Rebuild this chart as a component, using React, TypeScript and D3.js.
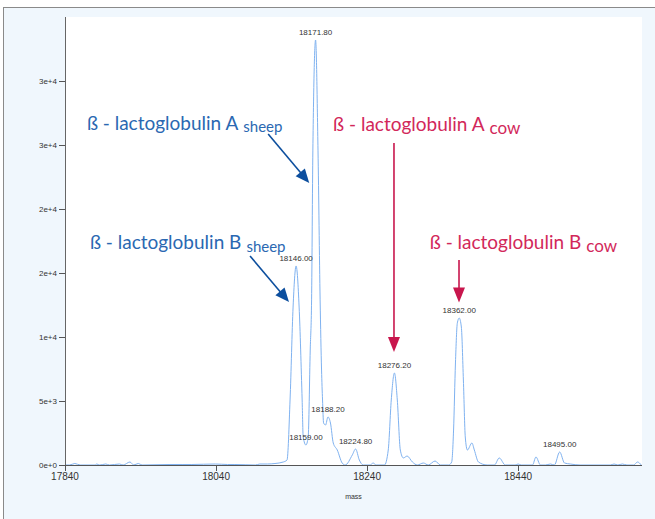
import React from "react";
import * as d3 from "d3";

// ---- data (mass, intensity) ----
const masses: number[] = [
  17840, 17846, 17853, 17860, 17880, 17882, 17886, 17894, 17899, 17912, 17917,
  17926, 17931, 17937, 17942, 17979, 17995, 18008, 18039, 18055, 18065, 18092,
  18098, 18108, 18118, 18129, 18134, 18138, 18142, 18146, 18150, 18154, 18155.4,
  18159, 18162, 18164.7, 18166.5, 18168.2, 18171.8, 18175, 18177.8, 18179.7,
  18181, 18182.4, 18185, 18188.2, 18191.5, 18195.2, 18200.5, 18207, 18211,
  18220.4, 18224.8, 18229.7, 18235, 18244, 18248, 18252, 18263, 18268, 18272,
  18276.2, 18280, 18284, 18288, 18293, 18300, 18306.5, 18314.5, 18321, 18330,
  18337, 18348, 18352, 18354.5, 18357, 18359.5, 18362, 18364.8, 18367.5, 18370,
  18372.8, 18378.8, 18382, 18387.4, 18399, 18408.6, 18415, 18423, 18436, 18440,
  18444, 18459, 18463.6, 18469.6, 18476, 18482.8, 18488, 18495, 18501.4, 18509,
  18522, 18562, 18567, 18572, 18578, 18584, 18593, 18598, 18603,
];
const intensities: number[] = [
  0, 0, 117, 0, 0, 78, 0, 78, 0, 78, 0,
  234, 0, 117, 0, 40, 40, 40, 78, 40, 40, 0,
  78, 78, 117, 234, 390, 5080, 12340, 15550, 12340, 5080, 2190,
  1560, 2190, 8980, 12900, 24600, 33200, 24600, 12900, 7420,
  5080, 3280, 3125, 3750, 3280, 1720, 1170, 156, 0,
  780, 1250, 390, 0, 0, 156, 0, 0, 1170, 5080,
  7190, 5080, 1170, 550, 700, 234, 0, 156, 0, 312,
  0, 0, 234, 2730, 7970, 11100, 11480, 10780, 6640, 2190,
  1170, 1720, 1170, 234, 0, 0, 550, 0, 0, 78,
  0, 0, 625, 0, 0, 78, 0, 1015, 156, 78,
  0, 0, 78, 0, 78, 0, 0, 234, 0,
];

const labelledPeaks: number[] = [18146, 18159, 18171.8, 18188.2, 18224.8, 18276.2, 18362, 18495];

const xTicks: number[] = [17840, 18040, 18240, 18440];
const yTicks: number[] = [0, 5000, 10000, 15000, 20000, 25000, 30000];

const xDomain: [number, number] = [17840, 18604];
const yDomain: [number, number] = [0, 35000];

// annotations in data coordinates
const annoText: string[] = ["ß - lactoglobulin A", "ß - lactoglobulin B", "ß - lactoglobulin A", "ß - lactoglobulin B"];
const annoSub: string[] = ["sheep", "sheep", "cow", "cow"];
const annoPos: [number, number][] = [[17869, 26210], [17873, 16875], [18195, 26090], [18323, 16875]];
const arrowFrom: [number, number][] = [[18109, 25860], [18085, 16330], [18275.6, 25156], [18361.7, 16016]];
const arrowTo: [number, number][] = [[18163.4, 22030], [18136.6, 12730], [18275.6, 8828], [18361.7, 12700]];
const annoKind: string[] = ["sheep", "sheep", "cow", "cow"];

const W = 655, H = 519;
const plot = { left: 65, right: 642, top: 17, bottom: 465 };

export default function App() {
  const x = d3.scaleLinear().domain(xDomain).range([plot.left, plot.right]);
  const y = d3.scaleLinear().domain(yDomain).range([plot.bottom, plot.top]);
  const pts: [number, number][] = masses.map((m, i) => [m, intensities[i]]);
  const line = d3
    .line<[number, number]>()
    .x((d) => x(d[0]))
    .y((d) => y(d[1]))
    .curve(d3.curveMonotoneX);
  const fmt = d3.format(".0e");
  const tickFont = "'Liberation Sans', Arial, sans-serif";
  const annoFont = "Lato, 'Open Sans', sans-serif";
  const colors: Record<string, { text: string; arrow: string }> = {
    sheep: { text: "#2a68b2", arrow: "#0d4f9e" },
    cow: { text: "#d2285a", arrow: "#c8164d" },
  };

  const arrowHead = (x1: number, y1: number, x2: number, y2: number, len: number, half: number) => {
    const a = Math.atan2(y2 - y1, x2 - x1);
    const bx = x2 - len * Math.cos(a), by = y2 - len * Math.sin(a);
    const px = -Math.sin(a) * half, py = Math.cos(a) * half;
    return `M${x2},${y2}L${bx + px},${by + py}L${bx - px},${by - py}Z`;
  };

  return (
    <svg width={W} height={H} style={{ position: "absolute", left: 0, top: 0, display: "block" }}>
      <rect x={0} y={0} width={W} height={H} fill="#ffffff" />
      <rect x={3.5} y={7.5} width={W} height={H} fill="#f0f7fd" stroke="#8a8a8a" strokeWidth={1} />
      <rect x={plot.left} y={plot.top} width={plot.right - plot.left} height={plot.bottom - plot.top} fill="#ffffff" />

      {/* spectrum */}
      <path d={line(pts) || ""} fill="none" stroke="#7fb2f0" strokeWidth={1} />

      {/* axes */}
      <line x1={plot.left + 0.5} x2={plot.left + 0.5} y1={plot.top} y2={plot.bottom} stroke="#666" strokeWidth={1} />
      <line x1={plot.left} x2={plot.right} y1={plot.bottom + 0.5} y2={plot.bottom + 0.5} stroke="#555" strokeWidth={1} />
      {yTicks.map((t) => (
        <g key={"y" + t}>
          <line x1={plot.left - 6} x2={plot.left} y1={Math.round(y(t)) + 0.5} y2={Math.round(y(t)) + 0.5} stroke="#555" />
          <text x={plot.left - 8} y={y(t) + 3} textAnchor="end" fontSize={8} fontFamily={tickFont} fill="#333">
            {fmt(t)}
          </text>
        </g>
      ))}
      {xTicks.map((t) => (
        <g key={"x" + t}>
          <line x1={Math.round(x(t)) + 0.5} x2={Math.round(x(t)) + 0.5} y1={plot.bottom} y2={plot.bottom + 6} stroke="#555" />
          <text x={x(t)} y={plot.bottom + 15} textAnchor="middle" fontSize={10} fontFamily={tickFont} fill="#333">
            {t}
          </text>
        </g>
      ))}
      <text x={(plot.left + plot.right) / 2} y={499} textAnchor="middle" fontSize={7} fontFamily={tickFont} fill="#333">
        mass
      </text>

      {/* peak labels */}
      {labelledPeaks.map((m) => {
        const i = masses.indexOf(m);
        return (
          <text key={"p" + m} x={x(m)} y={y(intensities[i]) - 5} textAnchor="middle" fontSize={8} fontFamily={tickFont} fill="#333">
            {m.toFixed(2)}
          </text>
        );
      })}

      {/* annotations */}
      {annoText.map((t, i) => {
        const c = colors[annoKind[i]];
        const x1 = x(arrowFrom[i][0]), y1 = y(arrowFrom[i][1]);
        const x2 = x(arrowTo[i][0]), y2 = y(arrowTo[i][1]);
        const len = annoKind[i] === "cow" ? 15 : 14;
        const half = 6;
        const a = Math.atan2(y2 - y1, x2 - x1);
        return (
          <g key={"a" + i}>
            <text x={x(annoPos[i][0])} y={y(annoPos[i][1])} fontSize={19} fontFamily={annoFont} fill={c.text}>
              {t}
              <tspan dx={5} dy={2.5} fontSize={annoKind[i] === "cow" ? 17 : 15}>
                {annoSub[i]}
              </tspan>
            </text>
            <line x1={x1} y1={y1} x2={x2 - (len - 2) * Math.cos(a)} y2={y2 - (len - 2) * Math.sin(a)} stroke={c.arrow} strokeWidth={1.6} />
            <path d={arrowHead(x1, y1, x2, y2, len, half)} fill={c.arrow} />
          </g>
        );
      })}
    </svg>
  );
}
